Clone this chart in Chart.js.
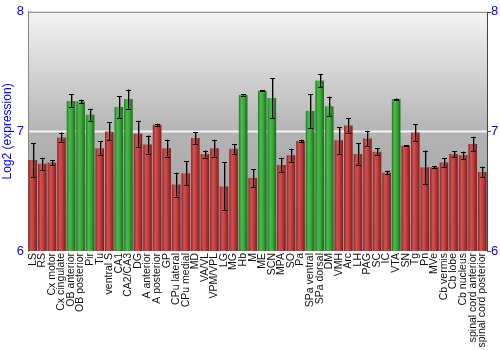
<!DOCTYPE html>
<html>
<head>
<meta charset="utf-8">
<script src="https://cdn.jsdelivr.net/npm/chart.js@4"></script>
<style>
  html, body { margin: 0; padding: 0; background: #fff; }
  #wrap { width: 500px; height: 350px; }
</style>
</head>
<body>
<div id="wrap"><canvas id="grafico" width="500" height="350"></canvas></div>
<script>
// datos
const regiones = ["LS", "RS", "Cx motor", "Cx cingulate", "OB anterior", "OB posterior", "Pir", "Tu",
  "ventral S", "CA1", "CA2/CA3", "DG", "A anterior", "A posterior", "GP", "CPu lateral", "CPu medial",
  "MD", "VA/VL", "VPM/VPL", "LG", "MG", "Hb", "M", "ME", "SCN", "MPA", "SO", "Pa", "SPa ventral",
  "SPa dorsal", "DM", "VMH", "Arc", "LH", "PAG", "SC", "IC", "VTA", "SN", "Tg", "Pn", "MVe",
  "Cb vermis", "Cb lobe", "Cb nucleus", "spinal cord anterior", "spinal cord posterior"];

const expresion = [6.76, 6.73, 6.74, 6.95, 7.255, 7.25, 7.14, 6.86,
  7.0, 7.205, 7.27, 6.98, 6.89, 7.055, 6.86, 6.555, 6.65,
  6.945, 6.81, 6.86, 6.54, 6.855, 7.305, 6.61, 7.34, 7.28, 6.72, 6.80, 6.92, 7.17,
  7.425, 7.21, 6.925, 7.05, 6.81, 6.94, 6.83, 6.655, 7.27, 6.88, 6.99, 6.70, 6.70,
  6.74, 6.81, 6.80, 6.895, 6.66];

const errores = [0.14, 0.05, 0.02, 0.04, 0.055, 0.015, 0.05, 0.06,
  0.075, 0.09, 0.08, 0.11, 0.075, 0.01, 0.07, 0.1, 0.1,
  0.05, 0.03, 0.07, 0.2, 0.04, 0.005, 0.075, 0.005, 0.165, 0.06, 0.055, 0.01, 0.14,
  0.055, 0.08, 0.11, 0.06, 0.09, 0.065, 0.03, 0.015, 0.005, 0.005, 0.07, 0.14, 0.01,
  0.035, 0.025, 0.03, 0.06, 0.045];

// regiones marcadas en verde
const enriquecidas = ["OB anterior", "OB posterior", "Pir", "CA1", "CA2/CA3", "Hb", "ME", "SCN",
  "SPa ventral", "SPa dorsal", "DM", "VTA"];

const ticksY = [6, 7, 8];

// degradado horizontal de cada barra
function colorBarra(ctx) {
  const verde = ctx.dataIndex !== undefined && enriquecidas.includes(regiones[ctx.dataIndex]);
  const plano = verde ? "#39a839" : "#c03c3c";
  const esc = ctx.chart.scales.x;
  if (!esc || ctx.dataIndex === undefined) return plano;
  const x = esc.getPixelForValue(ctx.dataIndex);
  const w = (esc.width / regiones.length) * 0.9;
  if (!isFinite(x) || !isFinite(w) || w <= 0) return plano;
  const g = ctx.chart.ctx.createLinearGradient(x - w / 2, 0, x + w / 2, 0);
  if (verde) {
    g.addColorStop(0, "#1d7a1d");
    g.addColorStop(0.3, "#4cbb4c");
    g.addColorStop(0.6, "#39a839");
    g.addColorStop(1, "#176b17");
  } else {
    g.addColorStop(0, "#8a2222");
    g.addColorStop(0.3, "#d25252");
    g.addColorStop(0.6, "#c03c3c");
    g.addColorStop(1, "#7e1c1c");
  }
  return g;
}

// fondo en degradado gris
const fondo = {
  id: "fondo",
  beforeDraw(chart) {
    const { ctx, chartArea: a } = chart;
    const g = ctx.createLinearGradient(0, a.top, 0, a.bottom);
    g.addColorStop(0, "#f3f3f3");
    g.addColorStop(0.5, "#b4b4b4");
    g.addColorStop(1, "#9a9a9a");
    ctx.save();
    ctx.fillStyle = g;
    ctx.fillRect(a.left, a.top, a.right - a.left, a.bottom - a.top);
    // linea blanca en 7
    const y7 = chart.scales.y.getPixelForValue(7);
    ctx.strokeStyle = "#f4f4f4";
    ctx.lineWidth = 2;
    ctx.beginPath();
    ctx.moveTo(a.left, y7);
    ctx.lineTo(a.right, y7);
    ctx.stroke();
    ctx.restore();
  },
  afterDraw(chart) {
    const { ctx, chartArea: a } = chart;
    ctx.save();
    ctx.strokeStyle = "#777";
    ctx.lineWidth = 1;
    ctx.beginPath();
    ctx.moveTo(a.left, a.top + 0.5);
    ctx.lineTo(a.right, a.top + 0.5);
    ctx.stroke();
    ctx.strokeStyle = "#444";
    ctx.beginPath();
    ctx.moveTo(a.right + 0.5, a.top);
    ctx.lineTo(a.right + 0.5, a.bottom);
    ticksY.forEach(v => {
      const y = Math.round(chart.scales.y.getPixelForValue(v)) + 0.5;
      ctx.moveTo(a.right, y);
      ctx.lineTo(a.right + 4, y);
    });
    ctx.stroke();
    ctx.restore();
  }
};

// barras de error
const barrasError = {
  id: "barrasError",
  afterDatasetsDraw(chart) {
    const { ctx } = chart;
    const ex = chart.scales.x, ey = chart.scales.y;
    ctx.save();
    expresion.forEach((v, i) => {
      const x = Math.round(ex.getPixelForValue(i)) + 0.5;
      const y1 = ey.getPixelForValue(v - errores[i]);
      const y2 = ey.getPixelForValue(v + errores[i]);
      ctx.strokeStyle = "rgba(80,80,80,0.6)";
      ctx.lineWidth = 2;
      ctx.beginPath();
      ctx.moveTo(x + 0.5, y1); ctx.lineTo(x + 0.5, y2);
      ctx.stroke();
      ctx.strokeStyle = "#000";
      ctx.lineWidth = 1;
      ctx.beginPath();
      ctx.moveTo(x, y1); ctx.lineTo(x, y2);
      ctx.moveTo(x - 2.5, Math.round(y1) + 0.5); ctx.lineTo(x + 2.5, Math.round(y1) + 0.5);
      ctx.moveTo(x - 2.5, Math.round(y2) + 0.5); ctx.lineTo(x + 2.5, Math.round(y2) + 0.5);
      ctx.stroke();
    });
    ctx.restore();
  }
};

new Chart(document.getElementById("grafico"), {
  type: "bar",
  data: {
    labels: regiones,
    datasets: [{
      data: expresion,
      base: 6,
      backgroundColor: colorBarra,
      borderWidth: 0,
      categoryPercentage: 1,
      barPercentage: 0.9
    }]
  },
  options: {
    responsive: false,
    animation: false,
    layout: { padding: { top: 10, right: 0, left: 0, bottom: 0 } },
    plugins: { legend: { display: false }, tooltip: { enabled: false } },
    scales: {
      x: {
        grid: { display: false, drawTicks: false },
        border: { display: false },
        ticks: {
          autoSkip: false,
          maxRotation: 90,
          minRotation: 90,
          padding: 2,
          color: "#111",
          font: { family: "Liberation Sans, Arial", size: 10.5 }
        },
        afterFit(s) { s.height = 99; }
      },
      y: {
        min: 6,
        max: 8,
        afterBuildTicks(s) { s.ticks = ticksY.map(v => ({ value: v })); },
        grid: { display: false, drawTicks: false },
        border: { display: true, color: "#888" },
        ticks: {
          color: "#0000ff",
          padding: 4,
          font: { family: "Liberation Sans, Arial", size: 13 }
        },
        title: {
          display: true,
          text: "Log2 (expression)",
          color: "#0000ff",
          padding: 0,
          font: { family: "Liberation Sans, Arial", size: 12 }
        },
        afterFit(s) { s.width = 28; }
      },
      y2: {
        position: "right",
        min: 6,
        max: 8,
        afterBuildTicks(s) { s.ticks = ticksY.map(v => ({ value: v })); },
        grid: { display: false, drawTicks: false },
        border: { display: false },
        ticks: {
          color: "#0000ff",
          padding: 4,
          font: { family: "Liberation Sans, Arial", size: 13 }
        },
        afterFit(s) { s.width = 13; }
      }
    }
  },
  plugins: [fondo, barrasError]
});
</script>
</body>
</html>
